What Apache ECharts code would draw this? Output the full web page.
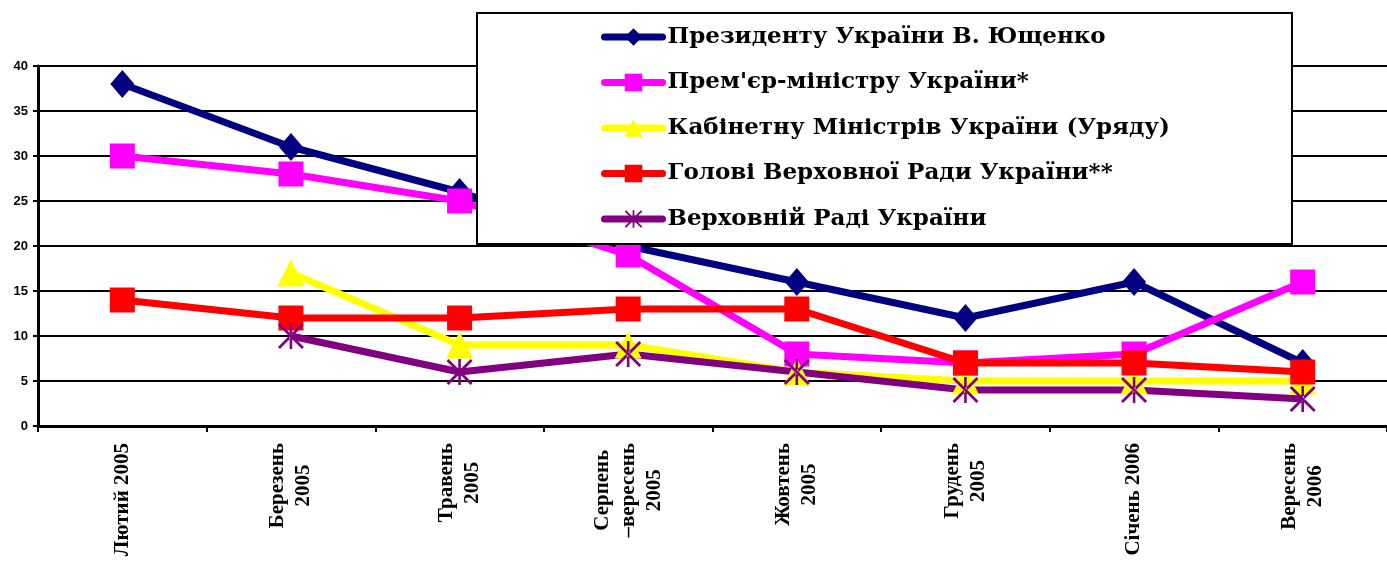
<!DOCTYPE html>
<html>
<head>
<meta charset="utf-8">
<script src="https://cdn.jsdelivr.net/npm/echarts@6/dist/echarts.min.js"></script>
<style>
html,body{margin:0;padding:0;background:#fff;}
#chart{width:1387px;height:562px;}
</style>
</head>
<body>
<div id="chart"></div>
<script>
const categories = ['Лютий 2005', 'Березень\n2005', 'Травень\n2005', 'Серпень\n–вересень\n2005', 'Жовтень\n2005', 'Грудень\n2005', 'Січень 2006', 'Вересень\n2006'];
const seriesNames = ['Президенту України В. Ющенко', "Прем'єр-міністру України*", 'Кабінетну Міністрів України (Уряду)', 'Голові Верховної Ради України**', 'Верховній Раді України'];
const president = [38, 31, 26, 20, 16, 12, 16, 7];
const premier = [30, 28, 25, 19, 8, 7, 8, 16];
const cabinet = [null, 17, 9, 9, 6, 5, 5, 5];
const speaker = [14, 12, 12, 13, 13, 7, 7, 6];
const rada = [null, 10, 6, 8, 6, 4, 4, 3];
const yTicks = [0, 5, 10, 15, 20, 25, 30, 35, 40];

const colors = ['#000080', '#FF00FF', '#FFFF00', '#FF0000', '#800080'];
const asterisk = 'path://M-0.1,-1 L0.1,-1 L0.1,1 L-0.1,1 Z M-1,-0.85 L-0.85,-1 L1,0.85 L0.85,1 Z M1,-0.85 L0.85,-1 L-1,0.85 L-0.85,1 Z';
const symbols = ['diamond', 'rect', 'triangle', 'rect', asterisk];
const symbolSizes = [[24, 28], 25, 27, 25, 26];
const dataSets = [president, premier, cabinet, speaker, rada];

const chart = echarts.init(document.getElementById('chart'), null, {renderer: 'canvas'});
const serif = '"Liberation Serif", "Times New Roman", serif';

chart.setOption({
  backgroundColor: '#ffffff',
  animation: false,
  grid: {left: 38, top: 66, width: 1354, height: 360, containLabel: false},
  legend: {
    orient: 'vertical',
    left: 477,
    top: 13,
    backgroundColor: '#ffffff',
    borderColor: '#000000',
    borderWidth: 2,
    padding: [12, 122, 13, 124],
    itemWidth: 58,
    itemHeight: 22,
    itemGap: 21.5,
    itemTextGap: 9,
    lineStyle: {width: 7, cap: 'round'},
    textStyle: {fontFamily: '"DejaVu Serif", serif', fontWeight: 'bold', fontSize: 23, color: '#000', lineHeight: 24},
    data: seriesNames
  },
  xAxis: {
    type: 'category',
    data: categories,
    boundaryGap: true,
    axisLine: {show: true, lineStyle: {color: '#000', width: 3}},
    axisTick: {show: true, length: 6, lineStyle: {color: '#000', width: 2}},
    axisLabel: {
      rotate: 90,
      interval: 0,
      margin: 17,
      color: '#000',
      formatter: function (v) {
        return v.split('\n').map(function (l) { return '{c|' + l + '}'; }).join('\n');
      },
      rich: {
        c: {align: 'center', fontFamily: serif, fontWeight: 'bold', fontSize: 21, lineHeight: 26, color: '#000'}
      }
    }
  },
  yAxis: {
    type: 'value',
    min: yTicks[0],
    max: yTicks[yTicks.length - 1],
    interval: yTicks[1] - yTicks[0],
    axisLine: {show: true, lineStyle: {color: '#000', width: 3}},
    axisTick: {show: true, length: 5, lineStyle: {color: '#000', width: 2}},
    splitLine: {show: true, lineStyle: {color: '#000', width: 2}},
    axisLabel: {margin: 10, color: '#000', fontFamily: '"Liberation Sans", Arial, sans-serif', fontWeight: 'bold', fontSize: 13}
  },
  series: seriesNames.map(function (name, i) {
    return {
      name: name,
      type: 'line',
      data: dataSets[i],
      symbol: symbols[i],
      symbolSize: symbolSizes[i],
      showAllSymbol: true,
      connectNulls: false,
      lineStyle: {color: colors[i], width: 7},
      itemStyle: {color: colors[i], borderWidth: 0},
      emphasis: {disabled: true}
    };
  })
});
</script>
</body>
</html>
